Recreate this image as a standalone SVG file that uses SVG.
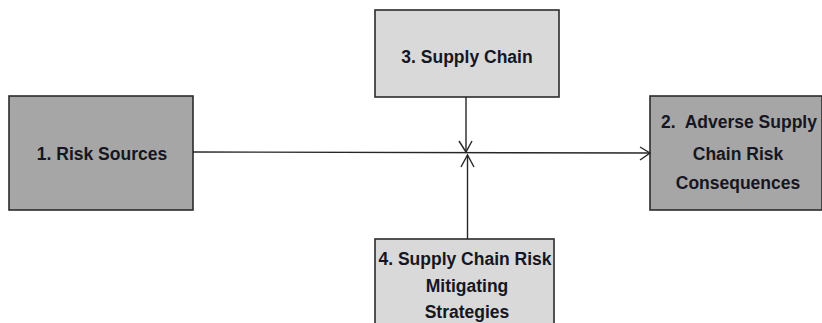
<svg xmlns="http://www.w3.org/2000/svg" width="822" height="323" viewBox="0 0 822 323">
<style>
.box{stroke:#2b2b2b;stroke-width:1.6}
.dark{fill:#a6a6a6}
.light{fill:#d9d9d9}
.t{font-family:"Liberation Sans",Arial,sans-serif;font-weight:bold;font-size:17.5px;fill:#161622;text-anchor:middle}
.c{stroke:#262626;stroke-width:1.4;fill:none}
</style>
<rect x="0" y="0" width="822" height="323" fill="#ffffff"/>
<g id="node1"><rect class="box dark" x="9" y="96" width="184" height="114"/><text class="t" x="102" y="160">1. Risk Sources</text></g>
<g id="node3"><rect class="box light" x="375" y="10" width="184" height="87"/><text class="t" x="467" y="63">3. Supply Chain</text></g>
<g id="node2"><rect class="box dark" x="650" y="96" width="172" height="114"/><text class="t" x="661" y="128" style="text-anchor:start" xml:space="preserve">2.  Adverse Supply</text><text class="t" x="738" y="160">Chain Risk</text><text class="t" x="738" y="189">Consequences</text></g>
<g id="node4"><rect class="box light" x="375" y="239" width="179" height="90"/><text class="t" x="465" y="265">4. Supply Chain Risk</text><text class="t" x="467" y="292">Mitigating</text><text class="t" x="467" y="318">Strategies</text></g>
<g id="connectors">
<path class="c" d="M193 152 L650 153"/>
<path class="c" d="M640 147 L650 153 L640 160"/>
<path class="c" d="M466 97 L466 152"/>
<path class="c" d="M459 141 L466 152 L472 141"/>
<path class="c" d="M467.5 239 L467.5 155"/>
<path class="c" d="M461 167 L467.5 155 L474 167"/>
</g>
</svg>
